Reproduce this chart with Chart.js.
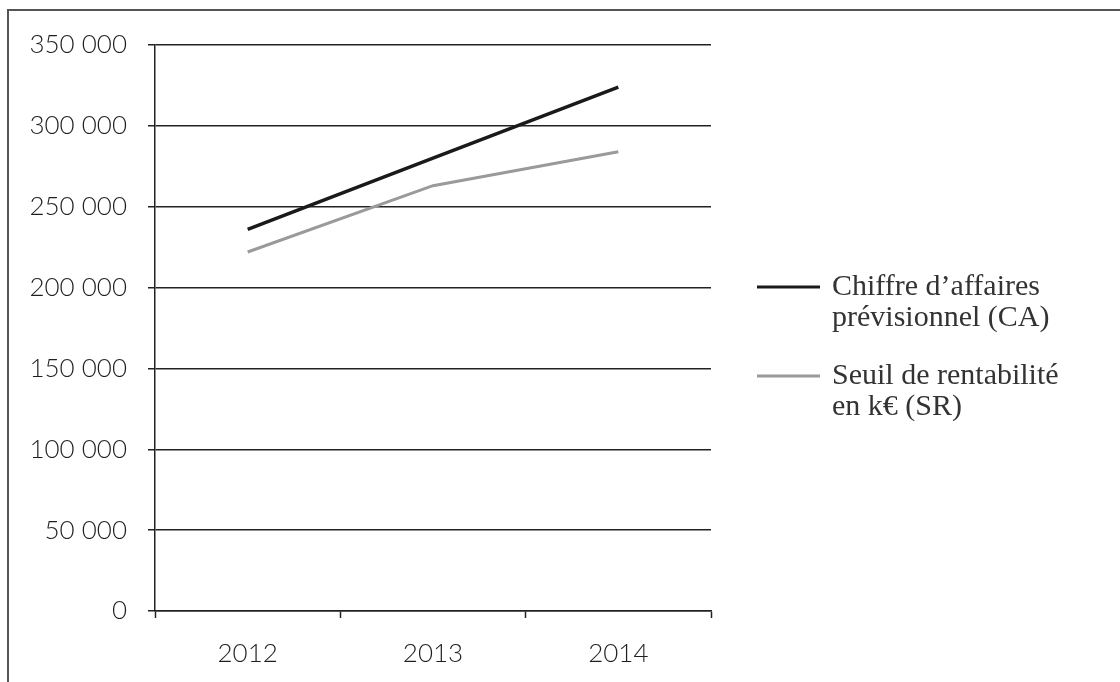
<!DOCTYPE html>
<html lang="fr">
<head>
<meta charset="utf-8">
<title>CA prévisionnel et seuil de rentabilité</title>
<script src="https://cdn.jsdelivr.net/npm/chart.js@4.4.0/dist/chart.umd.min.js"></script>
<style>
    html, body { margin: 0; padding: 0; background: #fff; }
    #wrap { position: relative; width: 1120px; height: 682px; overflow: hidden; }
    #frame {
        position: absolute; left: 7px; top: 9px; right: -4px; bottom: -4px;
        border-top: 2px solid #555; border-left: 2px solid #555;
    }
    #chartCanvas { position: absolute; left: 0; top: 0; }
</style>
</head>
<body>
<div id="wrap">
    <div id="frame"></div>
    <canvas id="chartCanvas" width="1120" height="682"></canvas>
</div>
<script>
// années
const years = ['2012', '2013', '2014'];
// chiffre d'affaires prévisionnel
const caValues = [236000, 280000, 324000];
// seuil de rentabilité
const srValues = [222000, 263000, 284000];
// graduations de l'axe vertical
const yTicks = [0, 50000, 100000, 150000, 200000, 250000, 300000, 350000];

const caLabel = ['Chiffre d\u2019affaires', 'prévisionnel (CA)'];
const srLabel = ['Seuil de rentabilité', 'en k\u20ac (SR)'];

Chart.defaults.font.family = 'Lato, "Open Sans", sans-serif';
Chart.defaults.font.weight = 300;
Chart.defaults.color = '#1f1f1f';

function formatThousands(v) {
    return String(v).replace(/\B(?=(\d{3})+(?!\d))/g, ' ');
}

// légende dessinée à la main, à droite du graphique (libellés sur deux lignes)
const sideLegend = {
    id: 'sideLegend',
    afterDraw(chart) {
        const ctx = chart.ctx;
        const area = chart.chartArea;
        const x0 = area.right + 46;
        let y = area.top + 242;
        ctx.save();
        ctx.font = '30px "Liberation Serif", "DejaVu Serif", serif';
        ctx.textBaseline = 'middle';
        ctx.textAlign = 'left';
        chart.data.datasets.forEach(function (ds) {
            ctx.strokeStyle = ds.borderColor;
            ctx.lineWidth = 3;
            ctx.beginPath();
            ctx.moveTo(x0, y);
            ctx.lineTo(x0 + 63, y);
            ctx.stroke();
            ctx.fillStyle = '#333';
            ds.legendLines.forEach(function (line, i) {
                ctx.fillText(line, x0 + 75, y + i * 31);
            });
            y += 89;
        });
        ctx.restore();
    }
};

new Chart(document.getElementById('chartCanvas'), {
    type: 'line',
    data: {
        labels: years,
        datasets: [
            {
                label: caLabel.join(' '),
                legendLines: caLabel,
                data: caValues,
                borderColor: '#1a1a1a',
                borderWidth: 3.5,
                pointRadius: 0,
                tension: 0
            },
            {
                label: srLabel.join(' '),
                legendLines: srLabel,
                data: srValues,
                borderColor: '#9a9a9a',
                borderWidth: 3,
                pointRadius: 0,
                tension: 0
            }
        ]
    },
    options: {
        responsive: false,
        animation: false,
        devicePixelRatio: 1,
        layout: {
            padding: { left: 0, right: 409, top: 45, bottom: 0 }
        },
        plugins: {
            legend: { display: false },
            tooltip: { enabled: false }
        },
        scales: {
            x: {
                offset: true,
                grid: {
                    offset: true,
                    drawOnChartArea: false,
                    tickLength: 7,
                    tickColor: '#222',
                    tickWidth: 1.5
                },
                border: { display: true, color: '#222', width: 1.5 },
                ticks: {
                    padding: 20,
                    font: { size: 26, weight: 300 },
                    color: '#1f1f1f'
                },
                afterFit: function (scale) { scale.height = 71; }
            },
            y: {
                min: 0,
                max: 350000,
                afterBuildTicks: function (scale) {
                    scale.ticks = yTicks.map(function (v) { return { value: v }; });
                },
                grid: {
                    color: '#222',
                    lineWidth: 1.5,
                    tickLength: 7
                },
                border: { display: true, color: '#222', width: 1.5 },
                ticks: {
                    padding: 21,
                    font: { size: 26, weight: 300 },
                    color: '#1f1f1f',
                    callback: function (value) { return formatThousands(value); }
                },
                afterFit: function (scale) { scale.width = 155; }
            }
        }
    },
    plugins: [sideLegend]
});
</script>
</body>
</html>
